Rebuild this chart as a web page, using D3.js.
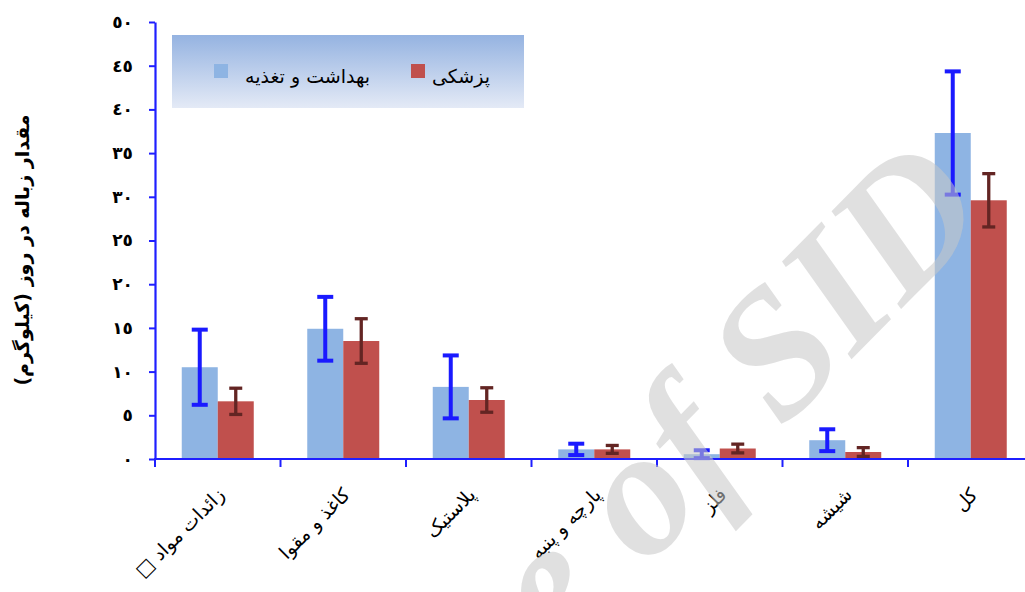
<!DOCTYPE html>
<html><head><meta charset="utf-8">
<script src="https://cdn.jsdelivr.net/npm/d3@7"></script>
<style>
html,body{margin:0;padding:0;background:#fff;}
svg{display:block;}
</style></head>
<body>
<svg id="chart" width="1025" height="592"></svg>
<script>
// ---- data ----
const categories = ["زائدات مواد □", "کاغذ و مقوا", "پلاستیک", "پارچه و پنبه", "فلز", "شیشه", "کل"];
const seriesNames = ["بهداشت و تغذیه", "پزشکی"];
const healthMeans = [10.5, 14.9, 8.25, 1.1, 0.55, 2.15, 37.3];
const healthErr   = [4.3, 3.65, 3.6, 0.65, 0.45, 1.25, 7.05];
const medicalMeans = [6.6, 13.5, 6.75, 1.1, 1.2, 0.8, 29.6];
const medicalErr   = [1.5, 2.55, 1.4, 0.45, 0.5, 0.5, 3.05];
const yTicks = [0, 5, 10, 15, 20, 25, 30, 35, 40, 45, 50];
const yTickLabels = ["٠", "٥", "١٠", "١٥", "٢٠", "٢٥", "٣٠", "٣٥", "٤٠", "٤٥", "٥٠"];
const yTitle = "مقدار زباله در روز (کیلوگرم)";
const watermark = "Archive of SID";

const barColors = ["#8EB4E3", "#C0504D"];
const errColors = ["#1a1aff", "#632523"];
const axisColor = "#1f1fff";
const RLE = "\u202B", PDF = "\u202C";

const svg = d3.select("#chart");
const x = d3.scaleBand().domain(categories).range([155, 1033.5]).paddingInner(0).paddingOuter(0);
const x1 = d3.scaleBand().domain(seriesNames).range([26.75, 98.75]);
const y = d3.scaleLinear().domain([0, 50]).range([459, 22]);

const rows = categories.map((c, i) => ({
  cat: c,
  vals: [
    {s: seriesNames[0], m: healthMeans[i], e: healthErr[i], k: 0},
    {s: seriesNames[1], m: medicalMeans[i], e: medicalErr[i], k: 1}
  ]
}));

// bars
const g = svg.append("g");
const grp = g.selectAll("g.cat").data(rows).join("g").attr("class", "cat")
  .attr("transform", d => `translate(${x(d.cat)},0)`);
grp.selectAll("rect").data(d => d.vals).join("rect")
  .attr("x", d => x1(d.s)).attr("width", x1.bandwidth())
  .attr("y", d => y(d.m)).attr("height", d => y(0) - y(d.m))
  .attr("fill", d => barColors[d.k]);

// error bars
const eb = grp.selectAll("g.err").data(d => d.vals).join("g").attr("class", "err")
  .attr("stroke", d => errColors[d.k]);
eb.append("line")
  .attr("x1", d => x1(d.s) + x1.bandwidth() / 2).attr("x2", d => x1(d.s) + x1.bandwidth() / 2)
  .attr("y1", d => y(d.m - d.e)).attr("y2", d => y(d.m + d.e))
  .attr("stroke-width", d => d.k === 0 ? 4 : 3.3);
[1, -1].forEach(sg => {
  eb.append("line")
    .attr("x1", d => x1(d.s) + x1.bandwidth() / 2 - (d.k === 0 ? 8 : 6.5))
    .attr("x2", d => x1(d.s) + x1.bandwidth() / 2 + (d.k === 0 ? 8 : 6.5))
    .attr("y1", d => y(d.m + sg * d.e)).attr("y2", d => y(d.m + sg * d.e))
    .attr("stroke-width", d => d.k === 0 ? 4 : 3.3);
});

// y axis
const yAxis = svg.append("g").attr("transform", "translate(155,0)")
  .call(d3.axisLeft(y).tickValues(yTicks).tickFormat((d, i) => yTickLabels[i]).tickSize(6).tickSizeOuter(0));
yAxis.select(".domain").attr("stroke", axisColor).attr("stroke-width", 2.2);
yAxis.selectAll(".tick line").attr("stroke", axisColor).attr("stroke-width", 2);
yAxis.selectAll(".tick text").attr("x", -22).attr("font-family", "DejaVu Sans")
  .attr("font-weight", "bold").attr("font-size", 17).attr("fill", "#000");

// x axis
const xAxis = svg.append("g");
xAxis.append("line").attr("x1", 154).attr("x2", 1025).attr("y1", y(0)).attr("y2", y(0))
  .attr("stroke", axisColor).attr("stroke-width", 2.2);
xAxis.selectAll("line.tk").data(categories).join("line").attr("class", "tk")
  .attr("x1", d => x(d)).attr("x2", d => x(d)).attr("y1", y(0)).attr("y2", y(0) + 8)
  .attr("stroke", axisColor).attr("stroke-width", 2);
xAxis.selectAll("text").data(categories).join("text")
  .attr("transform", d => `translate(${x(d) + x.bandwidth() / 2 + 8},${y(0) + 37}) rotate(-45)`)
  .attr("text-anchor", "end").attr("font-family", "DejaVu Sans").attr("font-size", 19)
  .attr("fill", "#000").text(d => RLE + d + PDF);

// y title
svg.append("text").attr("transform", "translate(29,250) rotate(-90)")
  .attr("text-anchor", "middle").attr("font-family", "DejaVu Sans").attr("font-weight", "bold")
  .attr("font-size", 19).attr("fill", "#000").text(RLE + yTitle + PDF);

// legend
const defs = svg.append("defs");
const lg = defs.append("linearGradient").attr("id", "lgGrad").attr("x1", 0).attr("x2", 0).attr("y1", 0).attr("y2", 1);
lg.append("stop").attr("offset", "0%").attr("stop-color", "#95b3e1");
lg.append("stop").attr("offset", "100%").attr("stop-color", "#e4eaf6");
const leg = svg.append("g");
leg.append("rect").attr("x", 172).attr("y", 35).attr("width", 352).attr("height", 73).attr("fill", "url(#lgGrad)");
const legItems = [{sx: 214, tx: 370}, {sx: 411, tx: 490}];
seriesNames.forEach((s, i) => {
  leg.append("rect").attr("x", legItems[i].sx).attr("y", 64).attr("width", 14).attr("height", 14).attr("fill", barColors[i]);
  leg.append("text").attr("x", legItems[i].tx).attr("y", 83).attr("text-anchor", "end")
    .attr("font-family", "DejaVu Sans").attr("font-size", 19).attr("fill", "#000").text(RLE + s + PDF);
});

// watermark: placed so the "o" and "D" glyphs land where they sit in the reference
const wm = svg.append("text").attr("font-family", "Liberation Serif").attr("font-style", "italic")
  .attr("font-weight", "bold").attr("fill", "#c8c8c8").attr("opacity", 0.55).text(watermark);
const oIdx = watermark.indexOf("o"), dIdx = watermark.indexOf("D");
const oTarget = [646, 506], dTarget = [905, 220];
const ang = Math.atan2(dTarget[1] - oTarget[1], dTarget[0] - oTarget[0]);
const dist = Math.hypot(dTarget[0] - oTarget[0], dTarget[1] - oTarget[1]);
let F = 170;
wm.attr("font-size", F);
const ext = i => { const e = wm.node().getExtentOfChar(i); return e.x + e.width / 2; };
let dx = ext(dIdx) - ext(oIdx);
F = F * dist / dx;
wm.attr("font-size", F);
const ox = ext(oIdx), oy = -0.24 * F, dxl = ext(dIdx) - ox, dyl = -0.33 * F - oy;
const rot = ang - Math.atan2(dyl, dxl);
const c = Math.cos(rot), s = Math.sin(rot);
const tx = oTarget[0] - (ox * c - oy * s), ty = oTarget[1] - (ox * s + oy * c);
wm.attr("transform", `translate(${tx},${ty}) rotate(${rot * 180 / Math.PI})`);
</script>
</body></html>
